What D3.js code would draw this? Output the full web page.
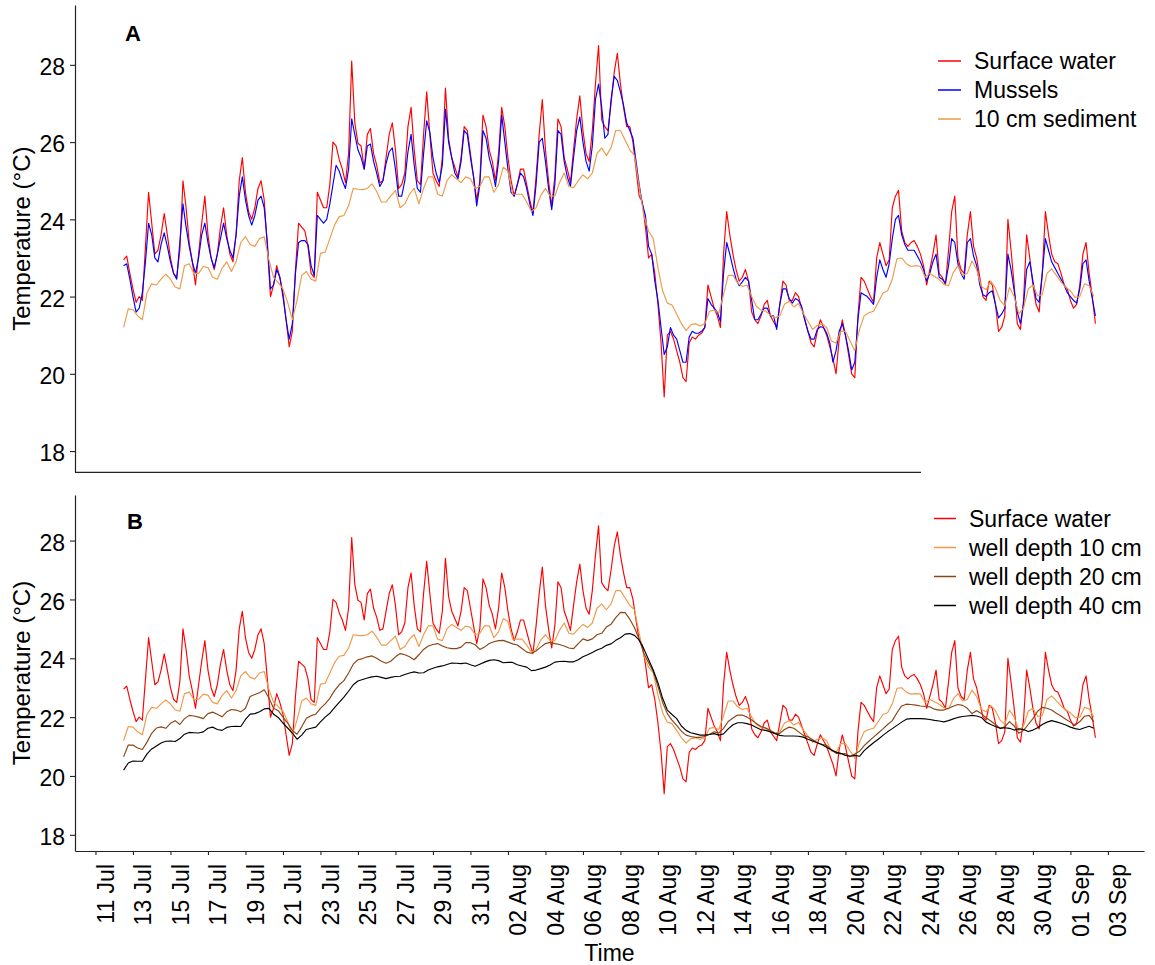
<!DOCTYPE html>
<html>
<head>
<meta charset="utf-8">
<script src="https://cdn.jsdelivr.net/npm/d3@7"></script>
<style>
  body { margin: 0; background: #fff; }
  svg { display: block; }
  text { font-family: "Liberation Sans", Arial, Helvetica, sans-serif; fill: #000; }
</style>
</head>
<body>
<svg id="chart" width="1155" height="965"></svg>
<script>
// ---- Logger records (°C) ----
// Surface water and mussel loggers: one value every 4 hours from 12 Jul 12:00
const surfaceStart = "2019-07-12T12:00:00Z";
const surfaceStepHours = 4;

const surfaceWater = [
  22.95, 23.05, 22.6,
  22.2, 21.85, 22.0, 21.9, 23.3, 24.7,
  23.9, 23.1, 23.2, 23.6, 24.15, 23.6,
  23.0, 22.6, 22.5, 23.2, 25.0, 24.3,
  23.4, 22.9, 22.3, 23.1, 23.9, 24.6,
  23.6, 23.0, 22.7, 23.1, 23.8, 24.3,
  23.6, 23.1, 22.9, 23.6, 25.0, 25.6,
  24.7, 24.2, 24.0, 24.3, 24.8, 25.0,
  24.5, 23.3, 22.0, 22.3, 22.8, 22.5,
  22.1, 21.4, 20.7, 21.1, 22.7, 23.9,
  23.8, 23.7, 23.3, 22.6, 22.5, 24.7,
  24.5, 24.3, 24.3, 24.9, 26.0, 25.9,
  25.55, 25.3, 24.95, 25.7, 28.1, 26.5,
  25.97, 25.9, 25.3, 26.2, 26.35, 25.7,
  25.4, 24.95, 25.0, 25.6, 26.2, 26.5,
  25.8, 24.8, 24.9, 25.2, 26.4, 26.9,
  25.8, 25.0, 24.9, 26.2, 27.3, 26.2,
  25.2, 25.0, 24.85, 25.6, 27.4, 26.1,
  25.6, 25.35, 25.1, 25.6, 26.4, 26.3,
  25.7, 25.1, 24.5, 25.0, 26.7, 26.4,
  25.8, 25.5, 25.0, 25.7, 26.9, 26.4,
  25.6, 25.0, 24.6, 24.9, 25.3, 25.3,
  24.9, 24.5, 24.16, 25.1, 26.2, 27.1,
  25.8, 25.0, 24.35, 25.1, 26.6, 26.4,
  25.6, 25.3, 24.95, 25.8, 26.6, 27.2,
  26.3, 25.7, 25.5, 26.3, 27.5, 28.5,
  26.57, 26.4, 26.3, 27.0, 27.8, 28.3,
  27.5, 26.9, 26.4, 26.4, 26.0, 25.3,
  24.6, 24.45, 23.8, 23.0, 23.1, 22.6,
  21.8, 20.8, 19.4, 21.0, 21.1, 20.9,
  20.6, 20.3, 19.9, 19.8, 20.8, 20.95,
  20.9, 21.0, 21.05, 21.2, 22.3, 22.0,
  21.7, 21.5, 21.2, 23.1, 24.2, 23.6,
  23.1, 22.7, 22.4, 22.5, 22.7, 22.4,
  21.6, 21.4, 21.3, 21.5, 21.8, 21.9,
  21.5, 21.35, 21.2, 21.8, 22.4, 22.3,
  21.9, 21.9, 22.1, 22.0, 21.7, 21.4,
  21.1, 20.8, 20.7, 21.1, 21.4, 21.2,
  21.0, 20.7, 20.4, 20.0, 20.9, 21.4,
  21.0, 20.5, 20.0, 19.9, 21.5, 22.5,
  22.4, 22.2, 22.0, 21.85, 23.0, 23.4,
  23.1, 22.8, 22.95, 24.3, 24.6, 24.75,
  23.7, 23.4, 23.3, 23.4, 23.45, 23.3,
  23.1, 22.8, 22.3, 22.7, 23.1, 23.6,
  22.6, 22.5, 22.3, 23.2, 24.2, 24.6,
  23.0, 22.7, 22.6, 23.6, 24.2, 23.3,
  23.0, 22.5, 22.0, 21.9, 22.4, 22.3,
  21.8, 21.1, 21.2, 21.5, 24.0, 23.2,
  22.3, 21.3, 21.15, 21.9, 23.6, 23.0,
  22.3, 21.8, 21.6, 22.6, 24.2, 23.6,
  23.1, 22.9, 22.85, 22.6, 22.3, 22.2,
  21.9, 21.7, 21.8, 22.3, 23.1, 23.4,
  22.6, 22.0, 21.3
];

const mussels = [
  22.8, 22.85, 22.45,
  22.0, 21.6, 21.7, 22.1, 22.9, 23.9,
  23.6, 23.0, 22.9, 23.35, 23.65, 23.3,
  22.9, 22.6, 22.45, 23.4, 24.4, 23.8,
  23.3, 22.9, 22.6, 23.0, 23.6, 23.9,
  23.4, 23.0, 22.75, 23.1, 23.5, 23.9,
  23.5, 23.2, 23.0, 23.6, 24.6, 25.1,
  24.5, 24.1, 23.85, 24.1, 24.5, 24.6,
  24.3, 23.4, 22.2, 22.3, 22.7, 22.5,
  22.0, 21.4, 20.9, 21.3, 22.6, 23.4,
  23.45, 23.45, 23.35, 22.8, 22.55, 24.1,
  24.0, 23.9, 24.0, 24.4, 24.9, 25.4,
  25.25, 25.0, 24.8, 25.3, 26.6, 26.2,
  25.8, 25.6, 25.3, 25.9, 25.95, 25.5,
  25.2, 24.85, 25.0, 25.45, 25.75, 25.85,
  25.3, 24.6, 24.6, 25.0, 25.75, 26.2,
  25.4, 24.8, 24.7, 25.7, 26.55, 26.25,
  25.6, 25.2, 24.95, 25.4, 26.85, 26.0,
  25.6, 25.2, 25.05, 25.5, 26.3, 26.2,
  25.6, 25.1, 24.35, 24.9, 26.3, 26.1,
  25.6, 25.3, 24.85, 25.5, 26.7, 26.0,
  25.3, 24.7, 24.6, 24.9, 25.2, 25.1,
  24.8, 24.4, 24.1, 24.9, 26.0, 26.1,
  25.5, 24.8, 24.25, 24.9, 26.3, 26.2,
  25.5, 25.1, 24.85, 25.6, 26.3, 26.65,
  26.0, 25.5, 25.25, 25.9, 27.1, 27.5,
  26.9, 26.1, 26.2, 27.1, 27.7, 27.6,
  27.3, 26.95, 26.5, 26.3, 26.1, 25.5,
  24.9, 24.4, 24.1, 23.3, 23.1, 22.4,
  21.9, 21.2, 20.5, 20.7, 21.2, 21.0,
  20.9, 20.6, 20.3, 20.3, 20.95, 21.1,
  21.05, 21.05, 21.1, 21.2, 21.95, 21.8,
  21.7, 21.6, 21.35, 22.6, 23.4, 23.1,
  22.75, 22.45, 22.28, 22.38, 22.5, 22.4,
  21.9, 21.4, 21.4, 21.55, 21.7, 21.7,
  21.5, 21.5, 21.15, 21.8, 22.2, 22.2,
  21.95, 21.83, 21.95, 21.9, 21.74, 21.4,
  21.1, 20.9, 20.9, 21.15, 21.22, 21.2,
  21.05, 20.8, 20.3, 20.6, 21.1, 21.3,
  21.0, 20.6, 20.1, 20.3, 21.4, 22.1,
  22.05, 22.0, 21.9, 21.8, 22.5, 22.95,
  22.7, 22.5, 22.85, 23.5, 24.0, 24.1,
  23.6, 23.35, 23.2, 23.2, 23.2, 23.05,
  22.9, 22.7, 22.4, 22.6, 22.9, 23.1,
  22.5, 22.45, 22.35, 22.8, 23.5, 23.4,
  22.85, 22.6, 22.45, 23.4, 23.5, 23.05,
  22.8, 22.3, 22.05, 22.0, 22.1, 22.15,
  21.8, 21.45, 21.55, 21.7, 23.1, 22.7,
  22.15, 21.6, 21.3, 21.8, 22.7, 22.9,
  22.4, 21.95, 21.85, 22.6, 23.5, 23.2,
  22.9, 22.75, 22.6, 22.45, 22.3, 22.1,
  22.0, 21.9, 21.83, 22.2, 22.85, 22.95,
  22.4, 21.95, 21.5
];

// Sediment wells: one value every 6 hours from 12 Jul 12:00
const depthStart = "2019-07-12T12:00:00Z";
const depthStepHours = 6;

// 10 cm (also shown as "10 cm sediment" in panel A)
const depth10 = [
  21.2, 21.68,
  21.66, 21.5, 21.4, 22.1,   22.33, 22.3, 22.45, 22.58,   22.45, 22.25, 22.2, 22.8,
  22.85, 22.6, 22.6, 22.78,  22.75, 22.5, 22.45, 22.73,   22.9, 22.65, 22.9, 23.4,
  23.55, 23.35, 23.3, 23.5,  23.55, 22.95, 22.5, 22.36,   22.2, 21.85, 21.4, 21.9,
  22.55, 22.65, 22.45, 22.4, 23.12, 23.15, 23.5, 23.85,   24.07, 24.1, 24.35, 24.8,
  24.78, 24.77, 24.8, 24.92, 24.72, 24.45, 24.45, 24.6,   24.75, 24.3, 24.4, 24.65,
  24.8, 24.4, 24.8, 25.1,    25.1, 24.65, 24.6, 25.0,     25.15, 25.05, 24.95, 25.1,
  25.05, 24.8, 24.85, 25.1,  25.1, 24.7, 24.9, 25.35,     25.25, 24.65, 24.65, 24.65,
  24.45, 24.2, 24.3, 24.62,  24.8, 24.6, 24.6, 24.95,     25.2, 24.85, 24.82, 25.0,
  25.15, 25.05, 25.2, 25.7,  25.85, 25.65, 25.85, 26.3,   26.3, 26.05, 25.8, 25.65,
  24.85, 24.1, 23.7, 23.5,   22.75, 22.15, 21.83, 21.78,  21.55, 21.3, 21.12, 21.27,
  21.3, 21.24, 21.3, 21.62,  21.65, 21.58, 22.05, 22.55,  22.55, 22.35, 22.26, 22.3,
  22.0, 21.75, 21.65, 21.62, 21.52, 21.45, 21.5, 21.8,    21.88, 21.73, 21.82, 21.57,
  21.36, 21.15, 21.25, 21.3, 21.2, 20.85, 20.8, 21.1,     21.1, 20.85, 20.6, 21.15,
  21.5, 21.58, 21.62, 21.85, 22.09, 22.15, 22.45, 22.98,  23.0, 22.85, 22.78, 22.8,
  22.78, 22.5, 22.6, 22.52, 22.44, 22.32, 22.28, 22.62,   22.8, 22.55, 22.6, 22.92,
  22.7, 22.26, 22.18, 22.4, 22.22, 21.9, 21.76, 22.24,    22.0, 21.55, 21.7, 22.2,
  22.3, 22.02, 22.05, 22.6, 22.72, 22.55, 22.38, 22.24,   22.15, 21.98, 22.0, 22.33,
  22.28, 22.0
];

const depth20 = [
  20.65, 21.05,
  21.05, 20.95, 20.9, 21.15,  21.45, 21.63, 21.67, 21.62,  21.79, 21.88, 21.75, 21.95,
  22.06, 22.04, 22.0, 21.95,  22.12, 22.17, 22.1, 22.01,   22.18, 22.26, 22.24, 22.18,
  22.3, 22.7, 22.77, 22.83,   22.93, 22.65, 22.3, 22.22,   22.0, 21.8, 21.55, 21.42,
  21.67, 21.96, 22.05, 22.1,  22.3, 22.45, 22.64, 22.9,    23.1, 23.24, 23.5, 23.8,
  23.95, 23.99, 24.05, 24.08, 24.0, 23.9, 23.83, 23.9,     24.05, 24.16, 24.12, 24.05,
  23.95, 24.12, 24.3, 24.42,  24.47, 24.5, 24.42, 24.36,   24.33, 24.33, 24.38, 24.53,
  24.53, 24.46, 24.3, 24.38,  24.5, 24.56, 24.6, 24.61,    24.55, 24.49, 24.45, 24.33,
  24.21, 24.17, 24.25, 24.38, 24.5, 24.54, 24.5, 24.47,    24.42, 24.35, 24.33, 24.5,
  24.66, 24.6, 24.66, 24.8,   24.85, 25.06, 25.16, 25.38,  25.56, 25.55, 25.33, 25.04,
  24.65, 24.17, 23.85, 23.55, 23.05, 22.5, 22.12, 21.9,    21.72, 21.52, 21.39, 21.34,
  21.31, 21.31, 21.34, 21.42, 21.5, 21.46, 21.62, 21.85,   21.97, 22.07, 22.07, 22.0,
  21.9, 21.78, 21.68, 21.63,  21.55, 21.45, 21.45, 21.58,  21.66, 21.62, 21.5, 21.38,
  21.33, 21.23, 21.13, 21.08, 21.04, 20.9, 20.77, 20.75,   20.76, 20.66, 20.75, 20.84,
  21.03, 21.18, 21.32, 21.46, 21.6, 21.75, 21.88, 22.15,   22.38, 22.44, 22.43, 22.41,
  22.38, 22.36, 22.35, 22.27, 22.24, 22.24, 22.3, 22.37,   22.43, 22.4, 22.3, 22.12,
  22.22, 22.12, 21.98, 21.87, 21.75, 21.62, 21.67, 21.85,  21.7, 21.45, 21.55, 21.75,
  21.95, 22.2, 22.33, 22.3,   22.24, 22.13, 22.04, 21.93,  21.83, 21.72, 21.85, 22.03,
  22.06, 21.84
];

const depth40 = [
  20.2, 20.44,
  20.51, 20.5, 20.5, 20.75,   20.92, 21.02, 21.12, 21.18,  21.19, 21.17, 21.27, 21.42,
  21.48, 21.47, 21.46, 21.5,  21.62, 21.66, 21.58, 21.55,  21.65, 21.68, 21.69, 21.68,
  21.92, 22.1, 22.12, 22.18,  22.28, 22.3, 22.1, 21.99,    21.8, 21.63, 21.46, 21.25,
  21.39, 21.58, 21.62, 21.66, 21.84, 22.0, 22.13, 22.32,   22.5, 22.68, 22.88, 23.1,
  23.23, 23.28, 23.33, 23.37, 23.39, 23.35, 23.31, 23.35,  23.38, 23.39, 23.45, 23.5,
  23.54, 23.5, 23.51, 23.6,   23.66, 23.71, 23.74, 23.79,  23.84, 23.83, 23.82, 23.84,
  23.78, 23.73, 23.8, 23.87,  23.93, 23.95, 23.92, 23.85,  23.86, 23.86, 23.78, 23.74,
  23.7, 23.58, 23.6, 23.65,   23.7, 23.77, 23.87, 23.89,   23.9, 23.88, 23.88, 23.95,
  24.05, 24.12, 24.2, 24.28,  24.34, 24.44, 24.49, 24.61,  24.7, 24.82, 24.84, 24.78,
  24.62, 24.32, 23.96, 23.6,  23.17, 22.64, 22.24, 22.09,  21.95, 21.7, 21.55, 21.47,
  21.43, 21.39, 21.39, 21.41, 21.44, 21.39, 21.43, 21.6,   21.74, 21.81, 21.81, 21.78,
  21.73, 21.65, 21.57, 21.55, 21.5, 21.44, 21.38, 21.36,   21.36, 21.36, 21.35, 21.32,
  21.25, 21.19, 21.13, 21.06, 20.98, 20.88, 20.81, 20.77,  20.7, 20.67, 20.7, 20.67,
  20.86, 21.0, 21.13, 21.25,  21.38, 21.5, 21.61, 21.72,   21.83, 21.93, 21.95, 21.95,
  21.95, 21.94, 21.92, 21.89, 21.87, 21.84, 21.88, 21.94,  21.99, 22.02, 22.04, 22.06,
  22.04, 21.99, 21.83, 21.75, 21.68, 21.62, 21.64, 21.62,  21.56, 21.6, 21.58, 21.51,
  21.56, 21.64, 21.75, 21.83, 21.88, 21.84, 21.79, 21.73,  21.66, 21.61, 21.58, 21.64,
  21.69, 21.62
];

// Axis settings
const yLimits = [18, 29];
const yTicks = [18, 20, 22, 24, 26, 28];
const xTickFirst = "2019-07-11T00:00:00Z";
const xTickLast = "2019-09-03T00:00:00Z";
const xTickEveryDays = 2;

// Legends
const legendA = ["Surface water", "Mussels", "10 cm sediment"];
const legendB = ["Surface water", "well depth 10 cm", "well depth 20 cm", "well depth 40 cm"];

// ---- Drawing ----
const colors = {
  surface: "#FF0000",
  mussels: "#0000FF",
  d10: "#EE9A49",
  d20: "#8B4513",
  d40: "#000000"
};

function toSeries(values, start, stepHours) {
  const t0 = Date.parse(start);
  return values.map((v, i) => ({ t: new Date(t0 + i * stepHours * 3600e3), v }));
}

const sSurface = toSeries(surfaceWater, surfaceStart, surfaceStepHours);
const sMussels = toSeries(mussels, surfaceStart, surfaceStepHours);
const s10 = toSeries(depth10, depthStart, depthStepHours);
const s20 = toSeries(depth20, depthStart, depthStepHours);
const s40 = toSeries(depth40, depthStart, depthStepHours);

const svg = d3.select("#chart");

// shared time scale, padded 5% on each side of the data range
const allT = [sSurface, sMussels, s10, s20, s40].flat().map(d => +d.t);
const [tMin, tMax] = d3.extent(allT);
const tPad = (tMax - tMin) * 0.05;
const x = d3.scaleUtc()
  .domain([new Date(tMin - tPad), new Date(tMax + tPad)])
  .range([75, 1144]);

const yPad = (yLimits[1] - yLimits[0]) * 0.05;
const yDomain = [yLimits[0] - yPad, yLimits[1] + yPad];
const yA = d3.scaleLinear().domain(yDomain).range([472.3, 5]);
const yB = d3.scaleLinear().domain(yDomain).range([851, 495]);

const axisColor = "#222";

function drawYAxis(g, y) {
  g.call(d3.axisLeft(y).tickValues(yTicks).tickSize(5).tickSizeOuter(0).tickPadding(5).tickFormat(d3.format("d")));
  g.select(".domain").attr("stroke", axisColor).attr("stroke-width", 1.2);
  g.selectAll(".tick line").attr("stroke", axisColor).attr("stroke-width", 1.1);
  g.selectAll(".tick text")
    .attr("font-size", 23)
    .attr("fill", "#000")
    .attr("dy", "0.42em");
}

function drawLine(g, series, y, color) {
  const line = d3.line().x(d => x(d.t)).y(d => y(d.v));
  g.append("path")
    .datum(series)
    .attr("fill", "none")
    .attr("stroke", color)
    .attr("stroke-width", 1.15)
    .attr("stroke-linejoin", "round")
    .attr("d", line);
}

function drawLegend(g, labels, cols, x0, lineLen, textX, y0, step) {
  labels.forEach((lab, i) => {
    const yy = y0 + i * step;
    g.append("line")
      .attr("x1", x0).attr("x2", x0 + lineLen)
      .attr("y1", yy).attr("y2", yy)
      .attr("stroke", cols[i]).attr("stroke-width", 1.5);
    g.append("text")
      .attr("x", textX).attr("y", yy)
      .attr("dy", "0.36em")
      .attr("font-size", 23)
      .text(lab);
  });
}

function yTitle(g, cy) {
  g.append("text")
    .attr("transform", `translate(30,${cy}) rotate(-90)`)
    .attr("text-anchor", "middle")
    .attr("font-size", 24)
    .text("Temperature (°C)");
}

// ---------- Panel A ----------
const gA = svg.append("g");
drawLine(gA, sSurface, yA, colors.surface);
drawLine(gA, sMussels, yA, colors.mussels);
drawLine(gA, s10, yA, colors.d10);

drawYAxis(gA.append("g").attr("transform", "translate(75,0)"), yA);
gA.append("line")
  .attr("x1", 75).attr("x2", 921)
  .attr("y1", yA.range()[0]).attr("y2", yA.range()[0])
  .attr("stroke", axisColor).attr("stroke-width", 1.2);

gA.append("text").attr("x", 125).attr("y", 40.5)
  .attr("font-size", 22).attr("font-weight", "bold").text("A");
yTitle(gA, (yA.range()[0] + yA.range()[1]) / 2);
drawLegend(gA, legendA, [colors.surface, colors.mussels, colors.d10], 938, 23, 974, 61, 29);

// ---------- Panel B ----------
const gB = svg.append("g");
drawLine(gB, sSurface, yB, colors.surface);
drawLine(gB, s10, yB, colors.d10);
drawLine(gB, s20, yB, colors.d20);
drawLine(gB, s40, yB, colors.d40);

drawYAxis(gB.append("g").attr("transform", "translate(75,0)"), yB);

const tickDates = d3.utcDay
  .range(new Date(xTickFirst), new Date(Date.parse(xTickLast) + 1))
  .filter((d, i) => i % xTickEveryDays === 0);

const gx = gB.append("g").attr("transform", `translate(0,${yB.range()[0]})`);
gx.call(d3.axisBottom(x).tickValues(tickDates).tickSize(4).tickSizeOuter(0).tickFormat(d3.utcFormat("%d %b")));
gx.select(".domain").attr("stroke", axisColor).attr("stroke-width", 1.2);
gx.selectAll(".tick line").attr("stroke", axisColor).attr("stroke-width", 1.1);
gx.selectAll(".tick text")
  .attr("font-size", 23)
  .attr("fill", "#000")
  .attr("text-anchor", "end")
  .attr("dy", 0)
  .attr("x", -13)
  .attr("y", 18)
  .attr("transform", "rotate(-90)");

gB.append("text").attr("x", 127).attr("y", 529.3)
  .attr("font-size", 22).attr("font-weight", "bold").text("B");
yTitle(gB, (yB.range()[0] + yB.range()[1]) / 2);
gB.append("text")
  .attr("x", (x.range()[0] + x.range()[1]) / 2)
  .attr("y", 961)
  .attr("text-anchor", "middle")
  .attr("font-size", 23)
  .text("Time");
drawLegend(gB, legendB, [colors.surface, colors.d10, colors.d20, colors.d40], 934, 22, 969, 518.5, 29);
</script>
</body>
</html>
